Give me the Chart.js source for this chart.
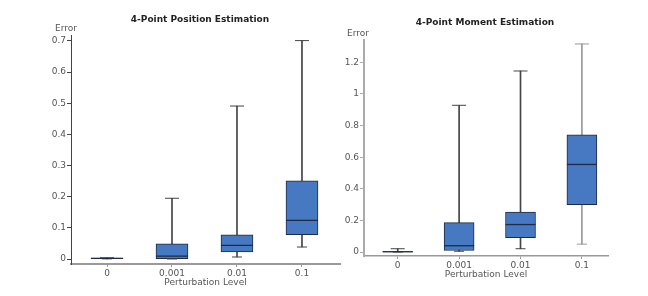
<!DOCTYPE html>
<html>
<head>
<meta charset="utf-8">
<script src="https://cdn.jsdelivr.net/npm/chart.js@4.4.1/dist/chart.umd.min.js"></script>
<style>
  html,body{margin:0;padding:0;background:#fff;}
  body{width:648px;height:296px;position:relative;overflow:hidden;}
  canvas{position:absolute;top:0;}
</style>
</head>
<body>
<div id="w1" style="position:absolute;left:0;top:0;width:400px;height:296px;"><canvas id="c1"></canvas></div>
<div id="w2" style="position:absolute;left:340px;top:0;width:290px;height:296px;"><canvas id="c2"></canvas></div>
<script>
// ---- data ----
const categories = ['0', '0.001', '0.01', '0.1'];

const posMin = [0.0005, 0.0,   0.0065, 0.0385];
const posQ1  = [0.001,  0.001, 0.0225, 0.078];
const posMed = [0.002,  0.009, 0.044,  0.124];
const posQ3  = [0.003,  0.049, 0.078,  0.251];
const posMax = [0.004,  0.195, 0.491,  0.701];

const momMin = [0.0,   0.005, 0.021, 0.05];
const momQ1  = [0.001, 0.01,  0.091, 0.30];
const momMed = [0.002, 0.04,  0.174, 0.554];
const momQ3  = [0.003, 0.186, 0.253, 0.741];
const momMax = [0.021, 0.928, 1.145, 1.316];

const posYTicks = [0, 0.1, 0.2, 0.3, 0.4, 0.5, 0.6, 0.7];
const momYTicks = [0, 0.2, 0.4, 0.6, 0.8, 1, 1.2];

const FONT = 'DejaVu Sans, Verdana, sans-serif';
const BOX_FILL = '#4679c2';
const BOX_EDGE = '#1e2b44';

function makeChart(canvasId, o) {
  const idx = categories.map((_, i) => i);
  const textPlugin = {
    id: 'txt' + canvasId,
    afterDraw(chart) {
      const ctx = chart.ctx;
      ctx.save();
      ctx.fillStyle = '#222';
      ctx.font = 'bold 9px ' + FONT;
      ctx.textAlign = 'center';
      ctx.textBaseline = 'middle';
      ctx.fillText(o.title, o.titleX, o.titleY);
      ctx.fillStyle = '#555';
      ctx.font = '9px ' + FONT;
      ctx.textAlign = 'left';
      ctx.fillText('Error', o.errX, o.errY);
      ctx.restore();
    }
  };
  return new Chart(document.getElementById(canvasId), {
    type: 'bar',
    data: {
      datasets: [
        { // whisker stems
          type: 'bar', grouped: false, order: 5,
          data: idx.map(i => ({ x: i, y: [o.min[i], o.max[i]] })),
          backgroundColor: o.stemColors, borderWidth: 0, barThickness: 1
        },
        { // boxes
          type: 'bar', grouped: false, order: 3,
          data: idx.map(i => ({ x: i, y: [o.q1[i], o.q3[i]] })),
          backgroundColor: BOX_FILL, borderColor: BOX_EDGE, borderWidth: 1,
          borderSkipped: false, barThickness: o.boxW
        },
        { // top caps
          type: 'scatter', order: 2,
          data: idx.map(i => ({ x: i, y: o.max[i] })),
          pointStyle: 'line', radius: o.capR, borderColor: o.stemColors, borderWidth: 1
        },
        { // bottom caps
          type: 'scatter', order: 2,
          data: idx.map(i => ({ x: i, y: o.min[i] })),
          pointStyle: 'line', radius: o.capRb, borderColor: o.stemColors, borderWidth: 1
        },
        { // medians
          type: 'scatter', order: 1,
          data: idx.map(i => ({ x: i, y: o.med[i] })),
          pointStyle: 'line', radius: o.boxW / 2, borderColor: BOX_EDGE, borderWidth: 1.3
        }
      ]
    },
    options: {
      responsive: true, maintainAspectRatio: false, animation: false,
      events: [],
      layout: { padding: { top: o.top, right: o.padRight, bottom: 0, left: 0 } },
      plugins: { legend: { display: false }, tooltip: { enabled: false }, title: { display: false } },
      scales: {
        x: {
          type: 'linear', offset: false, min: o.xMin, max: o.xMax,
          afterBuildTicks: s => { s.ticks = idx.map(v => ({ value: v })); },
          afterFit: s => { s.height = o.xH; },
          ticks: { callback: v => categories[v], color: '#555', font: { family: FONT, size: 9 }, padding: 1, autoSkip: false, maxRotation: 0 },
          grid: { display: true, drawOnChartArea: false, offset: false, tickLength: 3, color: o.xAxisColor, tickColor: o.xAxisColor },
          border: { display: true, color: o.xAxisColor, width: o.xAxisW },
          title: { display: true, text: 'Perturbation Level', color: '#555', font: { family: FONT, size: 9 }, padding: { top: 0, bottom: o.xTitlePad } }
        },
        y: {
          type: 'linear', min: o.yMin, max: o.yMax, beginAtZero: false,
          afterBuildTicks: s => { s.ticks = o.yTicks.map(v => ({ value: v })); },
          afterFit: s => { s.width = o.yW; },
          ticks: { callback: v => String(Number(v.toFixed(4))), color: '#555', font: { family: FONT, size: 9 }, padding: 1 },
          grid: { display: true, drawOnChartArea: false, tickLength: 4, color: o.yAxisColor, tickColor: o.yAxisColor },
          border: { display: true, color: o.yAxisColor, width: o.yAxisW }
        }
      }
    },
    plugins: [textPlugin]
  });
}

makeChart('c1', {
  min: posMin, q1: posQ1, med: posMed, q3: posQ3, max: posMax,
  yTicks: posYTicks, yMin: -0.016, yMax: 0.719,
  xMin: -0.554, xMax: 3.585,
  boxW: 32, capR: 7, capRb: 5,
  stemColors: ['#444', '#444', '#444', '#444'],
  top: 35, padRight: 60, yW: 71, xH: 32, xTitlePad: 8,
  xAxisColor: '#999', xAxisW: 2, yAxisColor: '#444', yAxisW: 1,
  title: '4-Point Position Estimation', titleX: 200, titleY: 20, errX: 55, errY: 29
});

makeChart('c2', {
  min: momMin, q1: momQ1, med: momMed, q3: momQ3, max: momMax,
  yTicks: momYTicks, yMin: -0.025, yMax: 1.341,
  xMin: -0.549, xMax: 3.425,
  boxW: 30, capR: 7, capRb: 5,
  stemColors: ['#444', '#444', '#444', '#999'],
  top: 40, padRight: 22, yW: 24, xH: 40, xTitlePad: 16,
  xAxisColor: '#999', xAxisW: 1.5, yAxisColor: '#aaa', yAxisW: 2,
  title: '4-Point Moment Estimation', titleX: 145, titleY: 23, errX: 7, errY: 34
});
</script>
</body>
</html>
